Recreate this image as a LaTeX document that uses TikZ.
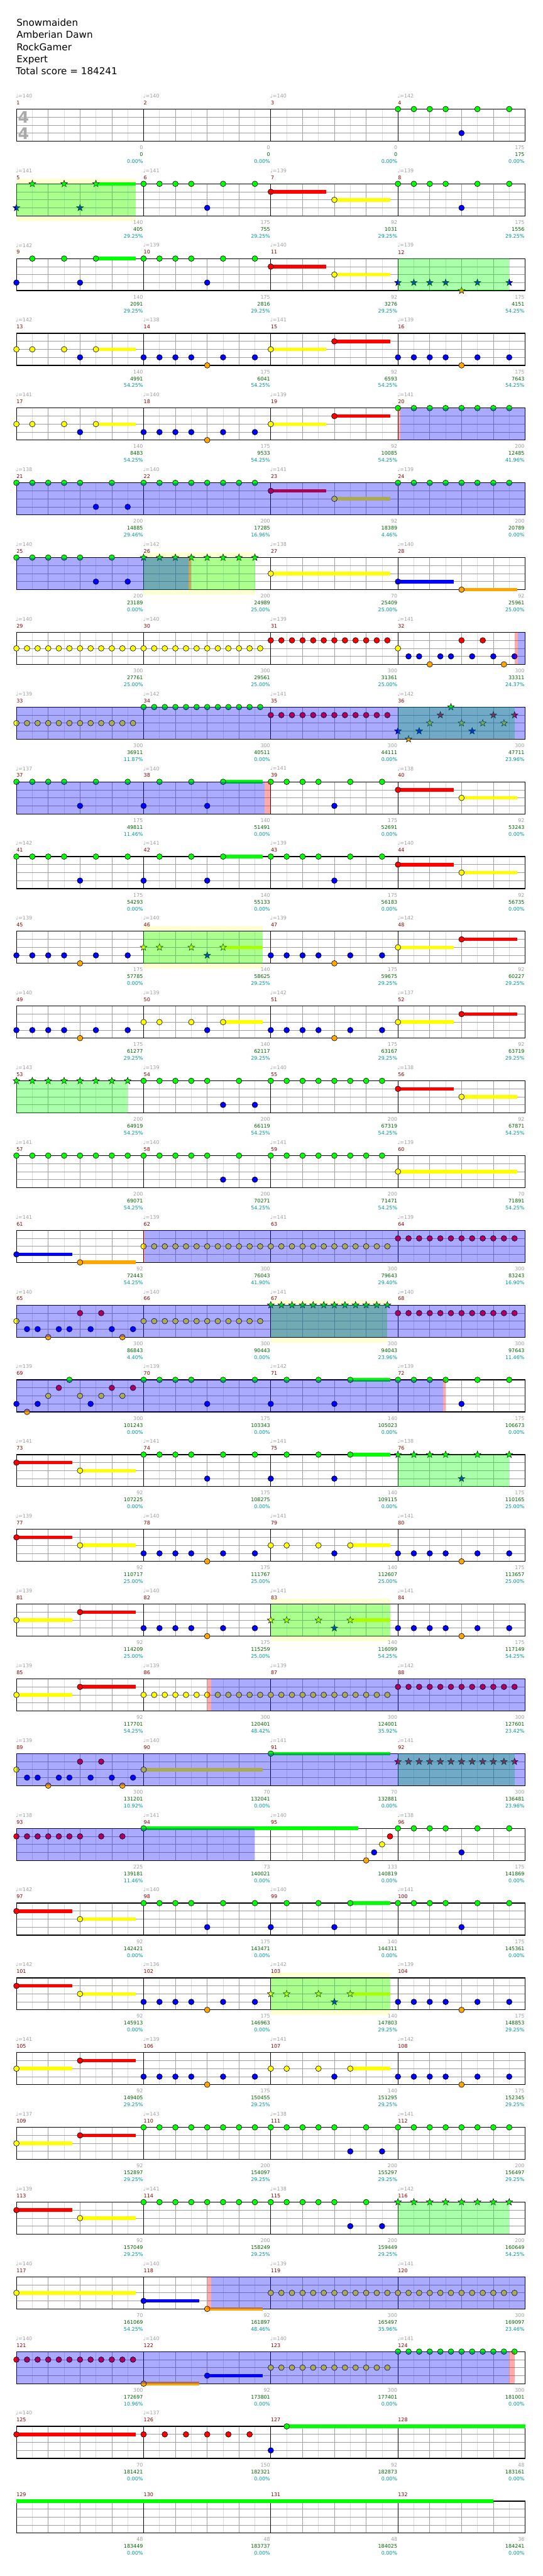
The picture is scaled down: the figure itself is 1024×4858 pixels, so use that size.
\documentclass[tikz,border=0pt]{standalone}
\usepackage{fontspec}
\setmainfont{DejaVu Sans}
\definecolor{cG}{RGB}{0,255,0}
\definecolor{cR}{RGB}{255,0,0}
\definecolor{cY}{RGB}{255,255,0}
\definecolor{cB}{RGB}{0,0,255}
\definecolor{cO}{RGB}{255,165,0}
\definecolor{tgray}{RGB}{160,160,160}
\definecolor{mred}{RGB}{139,0,0}
\definecolor{sgreen}{RGB}{0,100,0}
\definecolor{pteal}{RGB}{0,153,153}
\definecolor{lgrid}{RGB}{220,220,220}
\definecolor{dgrid}{RGB}{160,160,160}
\definecolor{ybox}{RGB}{255,255,212}
\definecolor{tsig}{RGB}{170,170,170}
\newif\ifstr
\newcommand\setm[1]{\pgfmathtruncatemacro\rr{(#1-1)/4}\pgfmathtruncatemacro\jj{#1-1-4*\rr}\pgfmathsetmacro\mx{31+240*\jj}\pgfmathsetmacro\my{205.7+140.97*\rr}}
\newcommand\xnote[4]{\setm{#1}\foreach\o in {#4}{\ifstr\filldraw[fill=#3,line width=0.6,shift={(\mx+\o,\my+15.1*#2)}] (-90:6.8)--(-54:2.8)--(-18:6.8)--(18:2.8)--(54:6.8)--(90:2.8)--(126:6.8)--(162:2.8)--(198:6.8)--(234:2.8)--cycle;\else\filldraw[fill=#3,line width=0.7] (\mx+\o,\my+15.1*#2) circle (5.3);\fi}}
\newcommand\xsus[5]{\setm{#1}\fill[#3] (\mx+#4,\my+15.1*#2-3.3) rectangle (\mx+#5,\my+15.1*#2+3.3);}
\newcommand\xov[4]{\setm{#1}\fill[#2,fill opacity=0.333] (\mx+#3,\my) rectangle (\mx+#4,\my+60.4);}
\newcommand\xyb[3]{\setm{#1}\fill[ybox] (\mx+#2,\my-10) rectangle (\mx+#3,\my+70.6);}
% patterns
\newcommand\patA[1]{\xnote{#1}{0}{cG}{0,30,60,90,150,210}\xnote{#1}{3}{cB}{120}}
\newcommand\patB[1]{\xsus{#1}{0}{cG}{150}{225}\xnote{#1}{0}{cG}{30,90,150}\xnote{#1}{3}{cB}{0,120}}
\newcommand\patC[1]{\xsus{#1}{1}{cR}{0}{105}\xsus{#1}{2}{cY}{120}{225}\xnote{#1}{1}{cR}{0}\xnote{#1}{2}{cY}{120}}
\newcommand\patD[1]{\xsus{#1}{2}{cY}{0}{105}\xsus{#1}{1}{cR}{120}{225}\xnote{#1}{2}{cY}{0}\xnote{#1}{1}{cR}{120}}
\newcommand\patE[1]{\xnote{#1}{3}{cB}{0,30,60,90,150,210}\xnote{#1}{4}{cO}{120}}
\newcommand\patF[1]{\xsus{#1}{2}{cY}{150}{225}\xnote{#1}{2}{cY}{0,30,90,150}\xnote{#1}{3}{cB}{120}}
\newcommand\patG[1]{\xnote{#1}{0}{cG}{0,30,60,90,120,180}\xnote{#1}{3}{cB}{150,210}}
\newcommand\patH[1]{\xnote{#1}{0}{cG}{0,30,60,90,120,150,180,210}}
\newcommand\patT[3]{\xnote{#1}{#2}{#3}{0,20,40,60,80,100,120,140,160,180,200,220}}
\newcommand\patP[1]{\xnote{#1}{2}{cY}{0}\xnote{#1}{3}{cB}{20,40,80,100,140,180,220}\xnote{#1}{4}{cO}{60,200}\xnote{#1}{1}{cR}{120,160}}
\newcommand\patX[1]{\xnote{#1}{3}{cB}{0,40,140}\xnote{#1}{4}{cO}{20}\xnote{#1}{2}{cY}{60,120,160,200}\xnote{#1}{0}{cG}{100}\xnote{#1}{1}{cR}{80,180,220}}
\newcommand\Mt[5]{\setm{#1}%
 \if\relax\detokenize{#2}\relax\else\node[tp] (t#1) at (\mx-1,\my-25) {♩=#2};\fi
 \node[mn] (n#1) at (\mx,\my-12) {#1};
 \node[ct] (c#1) at (\mx+239,\my+72.5) {#3};
 \node[sc] (s#1) at (\mx+239,\my+85.5) {#4};
 \node[pc] (p#1) at (\mx+239,\my+98.5) {#5\%};}
\begin{document}
\begin{tikzpicture}[x=1pt,y=-1pt,
 small/.style={inner sep=0,font=\fontsize{9.5}{10}\selectfont},
 tp/.style={small,anchor=west,text=tgray},
 mn/.style={small,anchor=west,text=mred},
 ct/.style={small,anchor=east,text=tgray},
 sc/.style={small,anchor=east,text=sgreen},
 pc/.style={small,anchor=east,text=pteal},
 hd/.style={anchor=base west,inner sep=0,font=\fontsize{18}{20}\selectfont}]
\useasboundingbox (0,0) rectangle (1024,4858);
\fill[white] (0,0) rectangle (1024,4858);
\node[hd] (h1) at (31,49) {Snowmaiden};
\node[hd] (h2) at (31,72) {Amberian Dawn};
\node[hd] (h3) at (31,95) {RockGamer};
\node[hd] (h4) at (31,118) {Expert};
\node[hd] (h5) at (30,141) {Total score = 184241};
% yellow boxes
\xyb{5}{0}{225}\xyb{26}{0}{210}\xyb{46}{0}{225}\xyb{67}{0}{220}\xyb{83}{0}{225}\xyb{103}{0}{225}
% grid
\foreach \r in {0,...,32}{
 \pgfmathsetmacro\T{205.7+140.97*\r}
 \foreach \k in {1,3,...,31}{\draw[lgrid,line width=0.9] (31+30*\k,\T)--(31+30*\k,\T+60.4);}
 \foreach \k in {2,4,6,10,12,14,18,20,22,26,28,30}{\draw[dgrid,line width=0.9] (31+30*\k,\T)--(31+30*\k,\T+60.4);}
 \foreach \h in {15.1,30.2,45.3}{\draw[dgrid,line width=0.9] (31,\T+\h)--(991,\T+\h);}
 \foreach \k in {1,2,3}{\draw[black,line width=0.9] (31+240*\k,\T)--(31+240*\k,\T+60.4);}
 \draw[black,line width=1.4] (31,\T) rectangle (991,\T+60.4);
}
\node[text=tsig,inner sep=0,font=\fontsize{30}{30}\selectfont\bfseries] (ts1) at (44.5,221.5) {4};
\node[text=tsig,inner sep=0,font=\fontsize{30}{30}\selectfont\bfseries] (ts2) at (44.5,251.5) {4};
% texts
\Mt{1}{140}{0}{0}{0.00}\Mt{2}{140}{0}{0}{0.00}\Mt{3}{140}{0}{0}{0.00}\Mt{4}{142}{175}{175}{0.00}
\Mt{5}{141}{140}{405}{29.25}\Mt{6}{141}{175}{755}{29.25}\Mt{7}{139}{92}{1031}{29.25}\Mt{8}{139}{175}{1556}{29.25}
\Mt{9}{142}{140}{2091}{29.25}\Mt{10}{139}{175}{2816}{29.25}\Mt{11}{140}{92}{3276}{29.25}\Mt{12}{139}{175}{4151}{54.25}
\Mt{13}{142}{140}{4991}{54.25}\Mt{14}{138}{175}{6041}{54.25}\Mt{15}{141}{92}{6593}{54.25}\Mt{16}{139}{175}{7643}{54.25}
\Mt{17}{141}{140}{8483}{54.25}\Mt{18}{140}{175}{9533}{54.25}\Mt{19}{139}{92}{10085}{54.25}\Mt{20}{141}{200}{12485}{41.96}
\Mt{21}{138}{200}{14885}{29.46}\Mt{22}{140}{200}{17285}{16.96}\Mt{23}{141}{92}{18389}{4.46}\Mt{24}{139}{200}{20789}{0.00}
\Mt{25}{140}{200}{23189}{0.00}\Mt{26}{142}{200}{24989}{25.00}\Mt{27}{138}{70}{25409}{25.00}\Mt{28}{140}{92}{25961}{25.00}
\Mt{29}{140}{300}{27761}{25.00}\Mt{30}{140}{300}{29561}{25.00}\Mt{31}{139}{300}{31361}{25.00}\Mt{32}{141}{300}{33311}{24.37}
\Mt{33}{139}{300}{36911}{11.87}\Mt{34}{142}{300}{40511}{0.00}\Mt{35}{141}{300}{44111}{0.00}\Mt{36}{142}{300}{47711}{23.96}
\Mt{37}{137}{175}{49811}{11.46}\Mt{38}{140}{140}{51491}{0.00}\Mt{39}{141}{175}{52691}{0.00}\Mt{40}{138}{92}{53243}{0.00}
\Mt{41}{142}{175}{54293}{0.00}\Mt{42}{141}{140}{55133}{0.00}\Mt{43}{139}{175}{56183}{0.00}\Mt{44}{140}{92}{56735}{0.00}
\Mt{45}{139}{175}{57785}{0.00}\Mt{46}{140}{140}{58625}{29.25}\Mt{47}{139}{175}{59675}{29.25}\Mt{48}{142}{92}{60227}{29.25}
\Mt{49}{140}{175}{61277}{29.25}\Mt{50}{139}{140}{62117}{29.25}\Mt{51}{142}{175}{63167}{29.25}\Mt{52}{137}{92}{63719}{29.25}
\Mt{53}{143}{200}{64919}{54.25}\Mt{54}{139}{200}{66119}{54.25}\Mt{55}{140}{200}{67319}{54.25}\Mt{56}{138}{92}{67871}{54.25}
\Mt{57}{141}{200}{69071}{54.25}\Mt{58}{140}{200}{70271}{54.25}\Mt{59}{141}{200}{71471}{54.25}\Mt{60}{139}{70}{71891}{54.25}
\Mt{61}{141}{92}{72443}{54.25}\Mt{62}{139}{300}{76043}{41.90}\Mt{63}{141}{300}{79643}{29.40}\Mt{64}{139}{300}{83243}{16.90}
\Mt{65}{140}{300}{86843}{4.40}\Mt{66}{140}{300}{90443}{0.00}\Mt{67}{141}{300}{94043}{23.96}\Mt{68}{140}{300}{97643}{11.46}
\Mt{69}{139}{300}{101243}{0.00}\Mt{70}{139}{175}{103343}{0.00}\Mt{71}{142}{140}{105023}{0.00}\Mt{72}{139}{175}{106673}{0.00}
\Mt{73}{141}{92}{107225}{0.00}\Mt{74}{141}{175}{108275}{0.00}\Mt{75}{141}{140}{109115}{0.00}\Mt{76}{138}{175}{110165}{25.00}
\Mt{77}{139}{92}{110717}{25.00}\Mt{78}{140}{175}{111767}{25.00}\Mt{79}{141}{140}{112607}{25.00}\Mt{80}{141}{175}{113657}{25.00}
\Mt{81}{139}{92}{114209}{25.00}\Mt{82}{140}{175}{115259}{25.00}\Mt{83}{141}{140}{116099}{54.25}\Mt{84}{141}{175}{117149}{54.25}
\Mt{85}{139}{92}{117701}{54.25}\Mt{86}{139}{300}{120401}{48.42}\Mt{87}{139}{300}{124001}{35.92}\Mt{88}{142}{300}{127601}{23.42}
\Mt{89}{139}{300}{131201}{10.92}\Mt{90}{140}{70}{132041}{0.00}\Mt{91}{141}{70}{132881}{0.00}\Mt{92}{141}{300}{136481}{23.96}
\Mt{93}{138}{225}{139181}{11.46}\Mt{94}{141}{73}{140021}{0.00}\Mt{95}{140}{133}{140819}{0.00}\Mt{96}{138}{175}{141869}{0.00}
\Mt{97}{142}{92}{142421}{0.00}\Mt{98}{140}{175}{143471}{0.00}\Mt{99}{140}{140}{144311}{0.00}\Mt{100}{141}{175}{145361}{0.00}
\Mt{101}{142}{92}{145913}{0.00}\Mt{102}{136}{175}{146963}{0.00}\Mt{103}{142}{140}{147803}{29.25}\Mt{104}{139}{175}{148853}{29.25}
\Mt{105}{141}{92}{149405}{29.25}\Mt{106}{139}{175}{150455}{29.25}\Mt{107}{141}{140}{151295}{29.25}\Mt{108}{142}{175}{152345}{29.25}
\Mt{109}{137}{92}{152897}{29.25}\Mt{110}{143}{200}{154097}{29.25}\Mt{111}{138}{200}{155297}{29.25}\Mt{112}{141}{200}{156497}{29.25}
\Mt{113}{139}{92}{157049}{29.25}\Mt{114}{141}{200}{158249}{29.25}\Mt{115}{138}{200}{159449}{29.25}\Mt{116}{142}{200}{160649}{54.25}
\Mt{117}{140}{70}{161069}{54.25}\Mt{118}{140}{92}{161897}{48.46}\Mt{119}{139}{300}{165497}{35.96}\Mt{120}{141}{300}{169097}{23.46}
\Mt{121}{140}{300}{172697}{10.96}\Mt{122}{140}{92}{173801}{0.00}\Mt{123}{140}{300}{177401}{0.00}\Mt{124}{141}{300}{181001}{0.00}
\Mt{125}{140}{70}{181421}{0.00}\Mt{126}{137}{150}{182321}{0.00}\Mt{127}{}{92}{182873}{0.00}\Mt{128}{}{48}{183161}{0.00}
\Mt{129}{}{48}{183449}{0.00}\Mt{130}{}{48}{183737}{0.00}\Mt{131}{}{48}{184025}{0.00}\Mt{132}{}{36}{184241}{0.00}
% notes
\patA{4}
\strtrue\patB{5}\strfalse\patA{6}\patC{7}\patA{8}
\patB{9}\patA{10}\patC{11}\strtrue\patE{12}\strfalse
\patF{13}\patE{14}\patD{15}\patE{16}
\patF{17}\patE{18}\patD{19}\patH{20}
\patG{21}\patH{22}\patC{23}\patH{24}
\patG{25}\strtrue\patH{26}\strfalse
\xsus{27}{2}{cY}{0}{225}\xnote{27}{2}{cY}{0}
\xsus{28}{3}{cB}{0}{105}\xsus{28}{4}{cO}{120}{225}\xnote{28}{3}{cB}{0}\xnote{28}{4}{cO}{120}
\patT{29}{2}{cY}\patT{30}{2}{cY}\patT{31}{1}{cR}\patP{32}
\patT{33}{2}{cY}\patT{34}{0}{cG}\patT{35}{1}{cR}\strtrue\patX{36}\strfalse
\patA{37}\patB{38}\patA{39}\patC{40}
\patA{41}\patB{42}\patA{43}\patC{44}
\patE{45}\strtrue\patF{46}\strfalse\patE{47}\patD{48}
\patE{49}\patF{50}\patE{51}\patD{52}
\strtrue\patH{53}\strfalse\patG{54}\patH{55}\patC{56}
\patH{57}\patG{58}\patH{59}\xsus{60}{2}{cY}{0}{225}\xnote{60}{2}{cY}{0}
\xsus{61}{3}{cB}{0}{105}\xsus{61}{4}{cO}{120}{225}\xnote{61}{3}{cB}{0}\xnote{61}{4}{cO}{120}
\patT{62}{2}{cY}\patT{63}{2}{cY}\patT{64}{1}{cR}
\patP{65}\patT{66}{2}{cY}\strtrue\patT{67}{0}{cG}\strfalse\patT{68}{1}{cR}
\patX{69}\patA{70}\patB{71}\patA{72}
\patC{73}\patA{74}\patB{75}\strtrue\patA{76}\strfalse
\patC{77}\patE{78}\patF{79}\patE{80}
\patD{81}\patE{82}\strtrue\patF{83}\strfalse\patE{84}
\patD{85}\patT{86}{2}{cY}\patT{87}{2}{cY}\patT{88}{1}{cR}
\patP{89}\xsus{90}{2}{cY}{0}{225}\xnote{90}{2}{cY}{0}\xsus{91}{0}{cG}{0}{225}\xnote{91}{0}{cG}{0}\strtrue\patT{92}{1}{cR}\strfalse
\xnote{93}{1}{cR}{0,20,40,60,80,100,120,160,200}
\xsus{94}{0}{cG}{0}{405}\xnote{94}{0}{cG}{0}
\xnote{95}{4}{cO}{180}\xnote{95}{3}{cB}{195}\xnote{95}{2}{cY}{210}\xnote{95}{1}{cR}{225}
\patA{96}
\patC{97}\patA{98}\patB{99}\patA{100}
\patC{101}\patE{102}\strtrue\patF{103}\strfalse\patE{104}
\patD{105}\patE{106}\patF{107}\patE{108}
\patD{109}\patH{110}\patG{111}\patH{112}
\patC{113}\patH{114}\patG{115}\strtrue\patH{116}\strfalse
\xsus{117}{2}{cY}{0}{225}\xnote{117}{2}{cY}{0}
\xsus{118}{3}{cB}{0}{105}\xsus{118}{4}{cO}{120}{225}\xnote{118}{3}{cB}{0}\xnote{118}{4}{cO}{120}
\patT{119}{2}{cY}\patT{120}{2}{cY}
\patT{121}{1}{cR}\xsus{122}{4}{cO}{0}{105}\xsus{122}{3}{cB}{120}{225}\xnote{122}{4}{cO}{0}\xnote{122}{3}{cB}{120}\patT{123}{2}{cY}\patT{124}{0}{cG}
\xsus{125}{1}{cR}{0}{225}\xnote{125}{1}{cR}{0}\xnote{126}{1}{cR}{0,40,80,120,160,200}
\xnote{127}{3}{cB}{0}\xsus{127}{0}{cG}{30}{480}\xnote{127}{0}{cG}{30}
\xsus{129}{0}{cG}{0}{900}
% green overlays
\xov{5}{cG}{0}{225}\xov{12}{cG}{0}{210}\xov{26}{cG}{0}{210}\xov{36}{cG}{0}{220}
\xov{46}{cG}{0}{225}\xov{53}{cG}{0}{210}\xov{67}{cG}{0}{220}\xov{76}{cG}{0}{210}
\xov{83}{cG}{0}{225}\xov{92}{cG}{0}{220}\xov{103}{cG}{0}{225}\xov{116}{cG}{0}{210}
% red stripes
\xov{20}{cR}{0}{4}\xov{26}{cR}{85}{90}\xov{32}{cR}{220}{226}\xov{38}{cR}{228}{240}
\xov{62}{cR}{0}{1.5}\xov{72}{cR}{85}{90}\xov{86}{cR}{120}{128}\xov{118}{cR}{120}{128}\xov{124}{cR}{210}{220}
% blue overlays
\xov{20}{cB}{4}{240}\xov{21}{cB}{0}{960}\xov{25}{cB}{0}{325}
\xov{32}{cB}{226}{240}\xov{33}{cB}{0}{960}\xov{37}{cB}{0}{468}
\xov{62}{cB}{1.5}{720}\xov{65}{cB}{0}{960}\xov{69}{cB}{0}{805}
\xov{86}{cB}{128}{720}\xov{89}{cB}{0}{960}\xov{93}{cB}{0}{449}
\xov{118}{cB}{128}{720}\xov{121}{cB}{0}{930}
\end{tikzpicture}
\end{document}
